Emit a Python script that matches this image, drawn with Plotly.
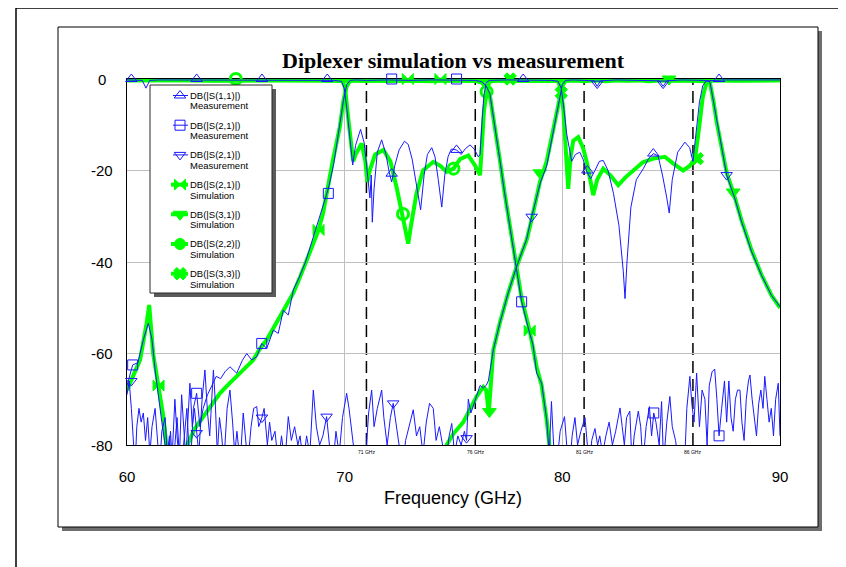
import plotly.graph_objects as go

W, H = 846, 567
BODY = 8                      # page body margin added by the html page
PL, PR, PT, PB = 127, 780, 79, 445   # plot area in page pixels
PW = PR - PL
PH = PB - PT


def pxx(px):
    return (px - PL) / PW


def pxy(py):
    return (PB - py) / PH


BLUE = "rgb(25,25,255)"
GREEN = "rgb(0,255,0)"

# ---------------- data (frequency GHz, dB) ----------------
S11_MEAS = [(60.0, -0.2), (60.5, -0.2), (60.7, -0.3), (60.87, -2.0), (61.05, -0.3), (61.5, -0.2), (62.5, -0.2),
            (63.5, -0.3), (64.5, -0.2), (65.5, -0.2), (66.5, -0.3), (67.5, -0.2), (68.5, -0.2), (69.5, -0.3),
            (69.85, -0.5), (69.98, -2), (70.1, -6.5), (70.25, -14), (70.37, -18.8), (70.5, -14.5), (70.73, -11),
            (70.9, -14), (71.05, -21), (71.16, -26), (71.22, -21), (71.27, -31.3), (71.35, -24), (71.5, -16),
            (71.7, -13.3), (71.9, -16.5), (72.05, -20.5), (72.16, -22.5), (72.3, -19), (72.5, -15.5),
            (72.75, -13.6), (72.92, -14.3), (73.1, -17.5), (73.3, -23), (73.49, -28.6), (73.65, -21), (73.8, -16.5),
            (74.0, -15), (74.15, -17), (74.3, -22), (74.46, -28), (74.6, -21), (74.75, -17), (74.9, -15.3),
            (75.14, -15.5), (75.35, -16.5), (75.55, -15.2), (75.76, -14.4), (75.95, -15.3), (76.14, -17),
            (76.22, -16.5), (76.3, -10), (76.4, -3.5), (76.5, -0.8), (76.65, -0.3), (77.5, -0.2), (78.5, -0.2),
            (79.5, -0.3), (79.8, -0.5), (79.95, -2), (80.07, -6.5), (80.2, -12), (80.43, -18), (80.6, -16.5),
            (80.8, -16), (80.95, -17.5), (81.12, -20.3), (81.3, -21.8), (81.5, -20), (81.7, -18), (81.88, -17.8),
            (82.1, -20), (82.35, -25), (82.6, -32), (82.8, -42), (82.88, -48), (82.97, -40), (83.15, -28),
            (83.4, -22), (83.72, -19.6), (83.95, -17.5), (84.18, -16.3), (84.4, -16.8), (84.6, -21), (84.8, -26),
            (84.91, -29.3), (85.05, -22), (85.3, -16), (85.63, -13.8), (85.85, -15), (86.0, -18), (86.15, -12),
            (86.3, -5), (86.45, -1.5), (86.6, -0.4), (87.5, -0.2), (88.5, -0.2), (89.5, -0.3), (90.0, -0.2)]

S21_MEAS = [(60.0, -67), (60.26, -62.5), (60.5, -62), (60.75, -57), (60.98, -53.4), (61.15, -57), (61.3, -64),
            (61.45, -70), (61.6, -75), (61.75, -80), (61.85, -86), (62.0, -77), (62.1, -86), (62.3, -74),
            (62.45, -86), (62.6, -80), (62.75, -72), (62.9, -86), (63.05, -72), (63.2, -68.7), (63.35, -76),
            (63.5, -72), (63.7, -69), (63.9, -67), (64.1, -65), (64.3, -65.5), (64.5, -64), (64.73, -62.9),
            (65.04, -64.3), (65.3, -61.5), (65.5, -60), (65.73, -61.4), (65.96, -60.7), (66.19, -57.8),
            (66.42, -58.9), (66.72, -54.9), (66.95, -55.6), (67.18, -50.5), (67.41, -51.6), (67.64, -46.1),
            (67.9, -43.5), (68.2, -40), (68.5, -35.5), (68.8, -31), (69.0, -28), (69.25, -24), (69.5, -18.5),
            (69.75, -11), (69.95, -4.5), (70.1, -1.2), (70.25, -0.3), (70.5, -0.2), (71.0, -0.3), (72.0, -0.2),
            (73.0, -0.3), (74.0, -0.2), (75.0, -0.3), (76.0, -0.3), (76.3, -0.6), (76.5, -1.5), (76.67, -3.2),
            (76.9, -10), (77.13, -17.7), (77.35, -25), (77.59, -32.3), (77.82, -39.6), (78.13, -48.7),
            (78.5, -55.6), (78.65, -58), (78.82, -64.3), (79.05, -66.5), (79.28, -74.5), (79.4, -82),
            (79.5, -70.5), (79.6, -80), (79.75, -84), (79.9, -77), (80.1, -73.8), (80.2, -80), (80.35, -84),
            (80.45, -78), (80.58, -74), (80.7, -80), (80.85, -77), (81.04, -74), (81.15, -80), (81.25, -85),
            (81.35, -79), (81.5, -76.4), (81.62, -80), (81.72, -78), (81.85, -82), (82.0, -78), (82.15, -75),
            (82.3, -80), (82.45, -77), (82.55, -74), (82.65, -71.9), (82.75, -76), (82.85, -80), (82.95, -74),
            (83.1, -72.6), (83.2, -84), (83.3, -78), (83.49, -72.6), (83.6, -76), (83.7, -84), (83.85, -76),
            (84.0, -71.6), (84.1, -78), (84.2, -73), (84.3, -75), (84.45, -80), (84.56, -70.5), (84.65, -84),
            (84.8, -75), (84.94, -69.4), (85.05, -76), (85.2, -79), (85.35, -84), (85.5, -80), (85.6, -86),
            (85.72, -72), (85.86, -65), (85.95, -71), (86.05, -75), (86.17, -64.3), (86.3, -76), (86.42, -68),
            (86.55, -70), (86.65, -80), (86.75, -67), (86.88, -64), (87.0, -63.4), (87.1, -70), (87.2, -78),
            (87.32, -72), (87.45, -66), (87.55, -75), (87.65, -66), (87.75, -74), (87.85, -77), (87.95, -70),
            (88.05, -68), (88.16, -68), (88.25, -75), (88.35, -79), (88.45, -70), (88.55, -66), (88.62, -64.7),
            (88.72, -70), (88.82, -74), (88.92, -78), (89.02, -71), (89.12, -68), (89.22, -72), (89.3, -65),
            (89.4, -70), (89.5, -75), (89.6, -72), (89.7, -78), (89.8, -70), (89.92, -66.5), (90.0, -78)]

S31_MEAS = [(60.0, -69), (60.1, -66), (60.2, -72), (60.3, -80), (60.37, -85), (60.45, -76), (60.55, -72),
            (60.65, -75), (60.75, -73), (60.85, -79), (60.95, -74), (61.05, -82), (61.15, -76), (61.29, -72),
            (61.4, -80), (61.5, -85), (61.6, -77), (61.75, -74), (61.85, -82), (61.95, -78), (62.05, -85),
            (62.2, -70), (62.3, -78), (62.4, -84), (62.51, -69), (62.6, -76), (62.7, -83), (62.89, -66.5),
            (63.0, -76), (63.1, -72), (63.2, -77), (63.3, -82), (63.45, -70), (63.58, -63.6), (63.7, -73),
            (63.8, -78), (63.97, -63.6), (64.05, -70), (64.15, -82), (64.25, -74), (64.35, -78), (64.45, -84),
            (64.6, -72), (64.73, -68), (64.85, -75), (64.95, -82), (65.05, -77), (65.2, -84), (65.34, -73),
            (65.45, -80), (65.55, -84), (65.7, -76), (65.82, -72), (65.96, -71.6), (66.05, -76), (66.2, -74),
            (66.3, -72), (66.45, -80), (66.55, -75), (66.65, -79), (66.8, -77), (66.95, -84), (67.1, -78),
            (67.25, -84), (67.41, -73.8), (67.55, -79), (67.7, -76), (67.85, -80), (67.95, -78), (68.1, -84),
            (68.25, -78), (68.4, -82), (68.56, -68), (68.7, -76), (68.85, -80), (69.0, -78), (69.17, -73.8),
            (69.3, -80), (69.45, -85), (69.6, -77), (69.75, -82), (69.9, -74), (70.09, -68.7), (70.2, -72),
            (70.35, -78), (70.5, -84), (70.65, -80), (70.8, -85), (70.95, -84), (71.1, -73), (71.24, -68),
            (71.35, -76), (71.5, -72), (71.7, -68), (71.8, -74), (71.95, -80), (72.1, -74), (72.23, -70.9),
            (72.35, -75), (72.5, -80), (72.65, -85), (72.8, -79), (72.95, -76), (73.15, -72.3), (73.3, -78),
            (73.45, -76), (73.6, -82), (73.75, -75), (73.9, -70.9), (74.07, -72), (74.2, -79), (74.35, -76),
            (74.5, -80), (74.65, -84), (74.8, -78), (74.92, -75.3), (75.05, -82), (75.2, -78), (75.35, -80),
            (75.5, -77), (75.6, -79), (75.68, -70), (75.8, -73), (75.95, -71), (76.06, -69.5), (76.22, -67),
            (76.37, -67.5), (76.5, -67), (76.6, -66), (76.7, -63), (76.83, -59.2), (77.13, -53.3), (77.51, -46.8),
            (77.9, -41), (78.36, -35), (78.59, -30.1), (79.0, -22.5), (79.28, -19), (79.6, -11), (79.89, -3.9),
            (80.0, -1.2), (80.15, -0.3), (80.5, -0.2), (81.0, -0.3), (81.45, -0.4), (81.6, -1.6), (81.75, -0.4),
            (82.5, -0.2), (83.5, -0.3), (84.45, -0.4), (84.63, -1.6), (84.8, -0.4), (85.5, -0.2), (86.2, -0.2),
            (86.5, -0.3), (86.78, -0.6), (86.95, -5), (87.09, -9.4), (87.3, -14.5), (87.55, -21), (87.93, -26.2),
            (88.24, -31.3), (88.7, -37.8), (89.15, -42.9), (89.61, -47.3), (90.0, -49.8)]

S21_SIM = [(60.0, -68), (60.3, -64.5), (60.6, -61.4), (60.9, -53.4), (61.02, -49.4), (61.2, -60), (61.44, -67.3),
           (61.67, -73.8), (61.82, -80.4), (62.0, -90), (62.4, -92), (62.74, -80.4), (63.1, -76.5), (63.5, -73.8),
           (63.9, -71), (64.27, -68.7), (64.65, -66.8), (65.04, -65.1), (65.4, -63.3), (65.8, -61.4), (66.1, -59),
           (66.42, -57), (66.72, -54.5), (67.03, -52), (67.34, -49.5), (67.64, -46.8), (67.95, -43.3),
           (68.25, -39.6), (68.5, -36.5), (68.77, -33.4), (69.0, -29.5), (69.17, -25), (69.45, -18),
           (69.78, -10.4), (69.95, -4.5), (70.09, -1.7), (70.25, -0.4), (70.5, -0.2), (71.0, -0.4), (71.5, -0.3),
           (72.0, -0.5), (72.5, -0.3), (73.0, -0.4), (73.5, -0.3), (74.0, -0.5), (74.5, -0.3), (75.0, -0.4),
           (75.5, -0.3), (76.0, -0.4), (76.3, -0.8), (76.5, -1.8), (76.67, -3.5), (76.9, -10), (77.13, -17.7),
           (77.35, -25), (77.59, -32.3), (77.82, -39.6), (78.13, -48), (78.5, -55), (78.82, -63), (79.05, -67),
           (79.28, -74.5), (79.45, -82), (79.7, -92), (85.0, -105), (90.0, -100)]

S31_SIM = [(60.0, -100), (74.0, -90), (74.68, -80), (75.0, -77.5), (75.45, -75), (75.76, -72.3), (76.06, -69.4),
           (76.37, -67.3), (76.5, -68), (76.62, -73), (76.72, -67), (76.83, -59.2), (77.13, -53.3),
           (77.51, -46.8), (77.9, -41), (78.36, -35.2), (78.6, -30.5), (78.97, -22.5), (79.28, -18), (79.6, -11),
           (79.89, -3.9), (80.0, -1.5), (80.15, -0.4), (80.6, -0.3), (81.0, -0.5), (81.5, -0.3), (82.0, -0.5),
           (82.5, -0.3), (83.0, -0.4), (83.5, -0.3), (84.0, -0.5), (84.5, -0.3), (85.0, -0.4), (85.5, -0.3),
           (86.0, -0.4), (86.5, -0.5), (86.78, -0.8), (86.95, -5), (87.09, -9.4), (87.3, -14.5), (87.55, -20.5),
           (87.85, -24.7), (88.24, -31), (88.7, -37.5), (89.15, -42.8), (89.61, -47.3), (90.0, -50)]

S22_SIM = [(60.0, -0.3), (62.0, -0.2), (64.0, -0.4), (66.0, -0.3), (68.0, -0.2), (69.9, -0.4), (70.02, -2),
           (70.15, -8), (70.3, -15), (70.39, -18), (70.5, -16.5), (70.78, -14.1), (70.95, -18), (71.04, -22.5),
           (71.15, -20), (71.4, -16.5), (71.78, -15.5), (72.1, -18), (72.4, -24), (72.6, -29), (72.8, -34),
           (72.92, -36), (73.05, -32), (73.3, -25), (73.6, -20), (74.07, -18.1), (74.4, -19), (74.68, -20.3),
           (75.0, -19.6), (75.3, -17.5), (75.68, -16.7), (76.0, -19), (76.22, -21), (76.3, -15), (76.4, -7),
           (76.52, -2.8), (76.65, -0.6), (77.0, -0.3), (79.0, -0.4), (82.0, -0.3), (85.0, -0.4), (88.0, -0.3),
           (90.0, -0.3)]

S33_SIM = [(60.0, -0.3), (63.0, -0.4), (66.0, -0.3), (70.0, -0.4), (74.0, -0.3), (77.0, -0.4), (79.8, -0.4),
           (79.95, -2.5), (80.05, -7), (80.15, -14), (80.27, -24), (80.38, -17), (80.5, -13.5), (80.73, -12.7),
           (80.95, -15), (81.12, -18.1), (81.3, -23), (81.42, -25.4), (81.6, -22), (81.88, -19.6), (82.2, -21),
           (82.57, -23.2), (82.9, -21.5), (83.26, -20), (83.7, -18.2), (84.18, -17.4), (84.71, -17),
           (85.1, -18.5), (85.55, -20), (85.85, -19), (86.1, -17.4), (86.3, -10), (86.45, -4), (86.63, -0.6),
           (87.0, -0.3), (88.0, -0.4), (89.0, -0.3), (90.0, -0.3)]

# marker positions
S11_MEAS_MK = [(60.2, 0), (63.2, 0), (66.2, 0), (69.2, 0), (72.16, -20.7), (75.14, -15.5), (78.2, 0),
               (81.15, -20), (84.18, -16.3), (87.2, 0)]
S21_MEAS_MK = [(60.26, -62.5), (63.2, -68.7), (66.19, -57.8), (69.25, -25), (72.16, 0), (75.14, 0),
               (78.13, -48.7), (84.2, -73), (87.2, -78)]
S31_MEAS_MK = [(60.2, -66), (63.2, -77.4), (66.2, -74), (69.17, -73.8), (72.23, -70.9), (75.6, -78.5),
               (78.59, -30.1), (81.6, -1), (84.63, -1), (87.55, -21)]
S21_SIM_MK = [(61.45, -67), (68.8, -33), (72.9, 0), (74.4, 0), (78.5, -55)]
S31_SIM_MK = [(76.65, -72.7), (78.97, -20.5), (84.9, 0), (87.85, -24.7)]
S22_SIM_MK = [(65.0, 0), (72.68, -29.5), (75.0, -19.6), (76.52, -2.8)]
S33_SIM_MK = [(77.6, 0), (79.95, -3), (86.2, -17.4)]

MARKER_FREQS = [71, 76, 81, 86]
MARKER_LABELS = ["71 GHz", "76 GHz", "81 GHz", "86 GHz"]

X_TICKS = [60, 70, 80, 90]
Y_TICKS = [0, -20, -40, -60, -80]

LEGEND_NAMES = ["DB(|S(1,1)|)", "DB(|S(2,1)|)", "DB(|S(2,1)|)", "DB(|S(2,1)|)",
                "DB(|S(3,1)|)", "DB(|S(2,2)|)", "DB(|S(3,3)|)"]
LEGEND_KIND = ["Measurement", "Measurement", "Measurement", "Simulation",
               "Simulation", "Simulation", "Simulation"]
LEGEND_STYLE = [(BLUE, 1, "triangle-up-open", 10, 1), (BLUE, 1, "square-open", 10, 1),
                (BLUE, 1, "triangle-down-open", 10, 1), (GREEN, 4, "bowtie", 11, 1),
                (GREEN, 4, "triangle-down", 12, 1), (GREEN, 4, "circle", 11, 1), (GREEN, 4, "x", 11, 1)]

fig = go.Figure()


def add_line(data, color, width):
    f, d = zip(*data)
    fig.add_trace(go.Scatter(x=list(f), y=list(d), mode="lines", line=dict(color=color, width=width),
                             showlegend=False, hoverinfo="skip"))


def add_marks(data, symbol, color, size, lw):
    f, d = zip(*data)
    fig.add_trace(go.Scatter(x=list(f), y=list(d), mode="markers", cliponaxis=False,
                             marker=dict(symbol=symbol, color=color, size=size,
                                         line=dict(color=color, width=lw)),
                             showlegend=False, hoverinfo="skip"))


# simulation (green, thick) first
add_line(S21_SIM, GREEN, 4)
add_line(S31_SIM, GREEN, 4)
add_line(S22_SIM, GREEN, 4)
add_line(S33_SIM, GREEN, 4)
add_marks(S21_SIM_MK, "bowtie", GREEN, 11, 1)
add_marks(S31_SIM_MK, "triangle-down", GREEN, 12, 1)
add_marks(S22_SIM_MK, "circle-open", GREEN, 11, 3)
add_marks(S33_SIM_MK, "x", GREEN, 11, 1)

# measurement (blue, thin)
add_line(S31_MEAS, BLUE, 1)
add_line(S21_MEAS, BLUE, 1)
add_line(S11_MEAS, BLUE, 1)
add_marks(S11_MEAS_MK, "triangle-up-open", BLUE, 10, 1)
add_marks(S21_MEAS_MK, "square-open", BLUE, 10, 1)
add_marks(S31_MEAS_MK, "triangle-down-open", BLUE, 10, 1)

# ---- hand-drawn legend on an overlay pixel axis (page pixel units) ----
LBX0, LBX1, LBY0, LBY1 = 150, 272, 85, 293
fig.add_trace(go.Scatter(x=[LBX0 + 4, LBX1 + 4, LBX1 + 4, LBX0 + 4, LBX0 + 4],
                         y=[LBY0 + 4, LBY0 + 4, LBY1 + 4, LBY1 + 4, LBY0 + 4],
                         xaxis="x2", yaxis="y2", mode="lines", fill="toself", fillcolor="rgb(90,90,90)",
                         line=dict(width=0), showlegend=False, hoverinfo="skip"))
fig.add_trace(go.Scatter(x=[LBX0, LBX1, LBX1, LBX0, LBX0], y=[LBY0, LBY0, LBY1, LBY1, LBY0],
                         xaxis="x2", yaxis="y2", mode="lines", fill="toself", fillcolor="white",
                         line=dict(width=1, color="rgb(40,40,40)"), showlegend=False, hoverinfo="skip"))
annotations = []
for i, (nm, kind, (col, lw, sym, ms, mlw)) in enumerate(zip(LEGEND_NAMES, LEGEND_KIND, LEGEND_STYLE)):
    ry = 95.5 + 29.7 * i
    x0 = 173 if lw == 1 else 171
    fig.add_trace(go.Scatter(x=[x0, 188], y=[ry, ry], xaxis="x2", yaxis="y2", mode="lines",
                             line=dict(color=col, width=lw), showlegend=False, hoverinfo="skip"))
    fig.add_trace(go.Scatter(x=[180], y=[ry], xaxis="x2", yaxis="y2", mode="markers", cliponaxis=False,
                             marker=dict(symbol=sym, size=ms, color=col, line=dict(color=col, width=mlw)),
                             showlegend=False, hoverinfo="skip"))
    annotations.append(dict(text=nm, xref="paper", yref="paper", x=pxx(188), y=pxy(ry), showarrow=False,
                            xanchor="left", yanchor="middle",
                            font=dict(family="Liberation Sans", size=9.5, color="black")))
    annotations.append(dict(text=kind, xref="paper", yref="paper", x=pxx(188), y=pxy(ry + 10.5),
                            showarrow=False, xanchor="left", yanchor="middle",
                            font=dict(family="Liberation Sans", size=9.5, color="black")))

shapes = []
# outer page frame
shapes.append(dict(type="line", xref="paper", yref="paper", x0=pxx(16), x1=pxx(900), y0=pxy(8), y1=pxy(8),
                   line=dict(color="black", width=1.5), layer="below"))
shapes.append(dict(type="line", xref="paper", yref="paper", x0=pxx(16), x1=pxx(16), y0=pxy(8), y1=pxy(600),
                   line=dict(color="black", width=1.5), layer="below"))
# inner graph frame with shadow
shapes.append(dict(type="rect", xref="paper", yref="paper", x0=pxx(62), x1=pxx(822), y0=pxy(531), y1=pxy(31),
                   fillcolor="rgb(110,110,110)", line=dict(width=0), layer="below"))
shapes.append(dict(type="rect", xref="paper", yref="paper", x0=pxx(58), x1=pxx(818), y0=pxy(527), y1=pxy(27),
                   fillcolor="white", line=dict(color="black", width=1), layer="below"))
# dashed marker lines
for fq in MARKER_FREQS:
    shapes.append(dict(type="line", xref="x", yref="y", x0=fq, x1=fq, y0=-80, y1=0,
                       line=dict(color="black", width=1.5, dash="12px,6px"), layer="below"))

annotations += [
    dict(text="<b>Diplexer simulation vs measurement</b>", xref="paper", yref="paper", x=pxx(453.5), y=pxy(60),
         showarrow=False, font=dict(family="Liberation Serif", size=22, color="black"),
         xanchor="center", yanchor="middle"),
    dict(text="Frequency (GHz)", xref="paper", yref="paper", x=pxx(453), y=pxy(498), showarrow=False,
         font=dict(family="Liberation Sans", size=18, color="black"), xanchor="center", yanchor="middle"),
]
for fq, lab in zip(MARKER_FREQS, MARKER_LABELS):
    annotations.append(dict(text=lab, x=fq, xref="x", yref="paper", y=pxy(452), showarrow=False,
                            font=dict(family="Liberation Sans", size=5, color="black"),
                            xanchor="center", yanchor="middle"))
for v in Y_TICKS:
    annotations.append(dict(text=str(v), x=pxx(102), xref="paper", y=v, yref="y", showarrow=False,
                            font=dict(family="Liberation Sans", size=15, color="black"),
                            xanchor="center", yanchor="middle"))

fig.update_layout(
    width=W, height=H,
    margin=dict(l=PL - BODY, r=W - PR + BODY, t=PT - BODY, b=H - PB + BODY, pad=0),
    paper_bgcolor="white", plot_bgcolor="white",
    shapes=shapes, annotations=annotations,
    showlegend=False,
    xaxis=dict(range=[60, 90], tickvals=X_TICKS, ticktext=[str(v) for v in X_TICKS], showgrid=True,
               gridcolor="rgb(192,192,192)", gridwidth=1, showline=True, linecolor="black", linewidth=1,
               mirror=True, zeroline=False, ticks="", layer="below traces",
               tickfont=dict(family="Liberation Sans", size=15, color="black"), ticklabelstandoff=18),
    yaxis=dict(range=[-80, 0], tickvals=Y_TICKS, showticklabels=False, showgrid=True,
               gridcolor="rgb(192,192,192)", gridwidth=1, showline=True, linecolor="black", linewidth=1,
               mirror=True, zeroline=False, ticks="", layer="below traces"),
    xaxis2=dict(overlaying="x", anchor="y2", range=[PL, PR], visible=False, fixedrange=True),
    yaxis2=dict(overlaying="y", anchor="x2", range=[PB, PT], visible=False, fixedrange=True),
)

fig.write_html("out.html")
